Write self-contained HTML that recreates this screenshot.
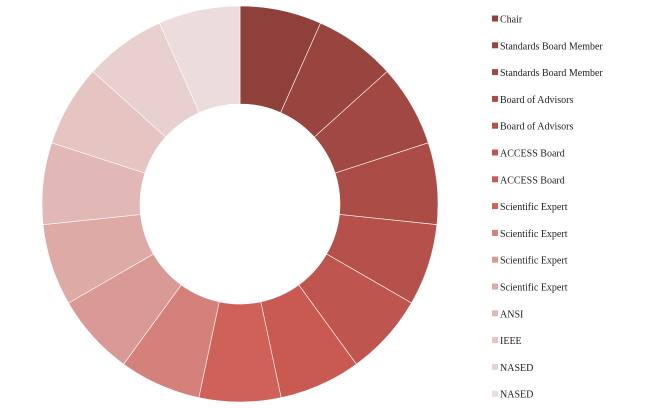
<!DOCTYPE html>
<html><head><meta charset="utf-8"><style>
html,body{margin:0;padding:0;background:#fff;}
svg{display:block;}
text{font-family:"Liberation Serif",serif;font-size:10px;fill:#222;}
</style></head><body>
<svg id="chart" width="660" height="408" viewBox="0 0 660 408">
<g id="slices"></g>
<g id="legend"></g>
</svg>
<script>
const categories = ["Chair","Standards Board Member","Standards Board Member","Board of Advisors","Board of Advisors","ACCESS Board","ACCESS Board","Scientific Expert","Scientific Expert","Scientific Expert","Scientific Expert","ANSI","IEEE","NASED","NASED"];
const values = [1,1,1,1,1,1,1,1,1,1,1,1,1,1,1];
const colors = ["#8f403b","#98443f","#a24842","#ab4c46","#b5514a","#be554e","#c85a52","#cf6159","#d4817b","#d99995","#ddaaa6","#e1b8b5","#e5c4c2","#e8d0cf","#ecdcdb"];
const NS="http://www.w3.org/2000/svg";
const cx=240, cy=204, R=198, r=100;
const total=values.reduce((a,b)=>a+b,0);
let ang=0;
const gs=document.getElementById('slices');
function pt(a,rad){return [cx+rad*Math.sin(a), cy-rad*Math.cos(a)];}
values.forEach((v,i)=>{
  const a0=ang, a1=ang+v/total*2*Math.PI; ang=a1;
  const large=(a1-a0)>Math.PI?1:0;
  const p0=pt(a0,R),p1=pt(a1,R),q1=pt(a1,r),q0=pt(a0,r);
  const d=`M${p0[0]},${p0[1]}A${R},${R} 0 ${large} 1 ${p1[0]},${p1[1]}L${q1[0]},${q1[1]}A${r},${r} 0 ${large} 0 ${q0[0]},${q0[1]}Z`;
  const p=document.createElementNS(NS,'path');
  p.setAttribute('d',d);
  p.setAttribute('fill',colors[i]);
  p.setAttribute('stroke','#fff');
  p.setAttribute('stroke-width','0.6');
  
  
  gs.appendChild(p);
});
const gl=document.getElementById('legend');
categories.forEach((c,i)=>{
  const y=19+i*26.8;
  const g=document.createElementNS(NS,'g');
  
  
  const s=document.createElementNS(NS,'rect');
  s.setAttribute('x',492);s.setAttribute('y',y-3.5);s.setAttribute('width',6);s.setAttribute('height',6);
  s.setAttribute('fill',colors[i]);
  
  
  const t=document.createElementNS(NS,'text');
  t.setAttribute('x',500);t.setAttribute('y',y+3.5);
  t.textContent=c;
  
  
  g.appendChild(s);g.appendChild(t);gl.appendChild(g);
});
</script>
</body></html>
